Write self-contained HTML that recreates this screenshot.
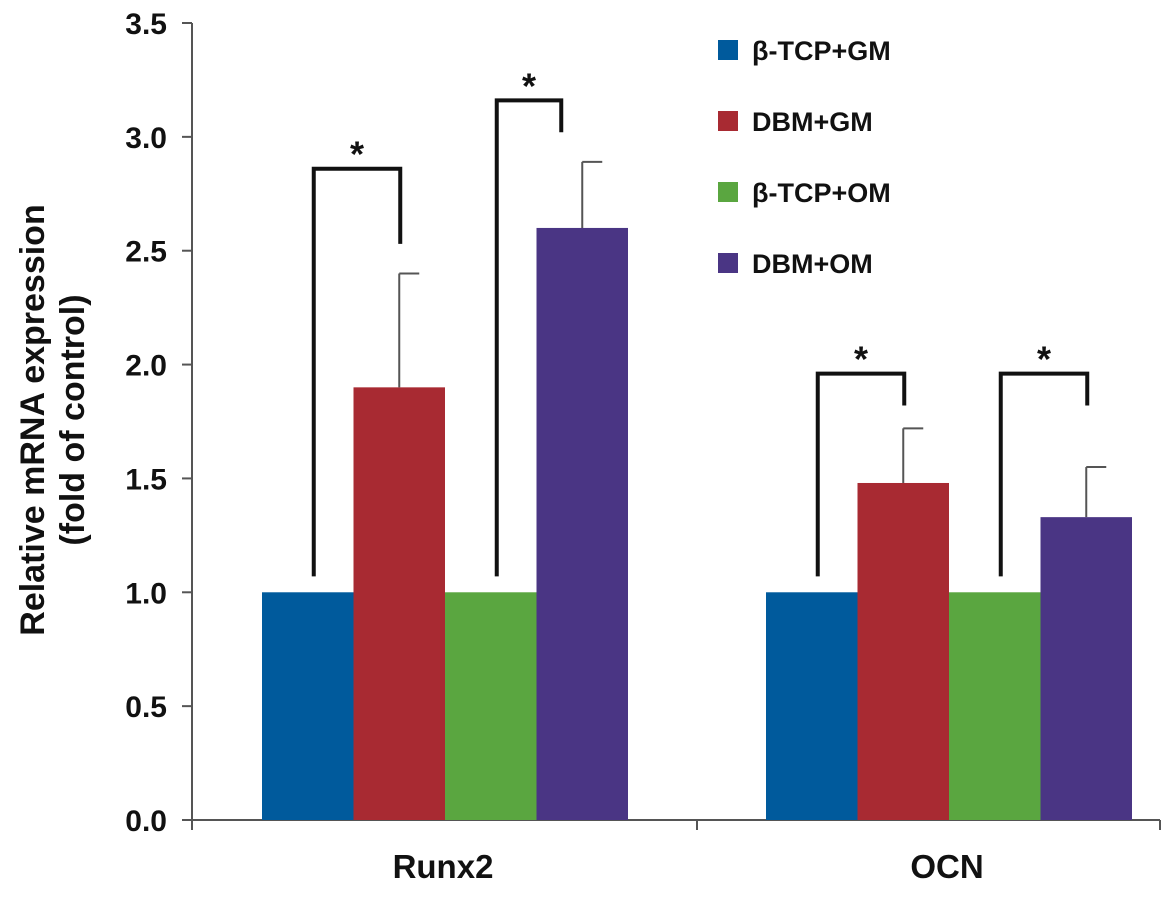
<!DOCTYPE html>
<html><head><meta charset="utf-8"><style>
body{margin:0;background:#fff;}
svg text{font-family:"Liberation Sans",Arial,sans-serif;font-weight:bold;}
</style></head><body>
<svg id="chart" width="1172" height="892" viewBox="0 0 1172 892"></svg>
<script>
const categories=["Runx2","OCN"];
const seriesNames=["β-TCP+GM","DBM+GM","β-TCP+OM","DBM+OM"];
const seriesColors=["#005a9c","#a82a32","#5aa640","#4a3584"];
const runx2Values=[1.0,1.9,1.0,2.6];
const ocnValues=[1.0,1.48,1.0,1.33];
const runx2Errors=[0,0.5,0,0.29];
const ocnErrors=[0,0.24,0,0.22];
const yTicks=[0,0.5,1.0,1.5,2.0,2.5,3.0,3.5];
const yTickLabels=["0.0","0.5","1.0","1.5","2.0","2.5","3.0","3.5"];
// [group, series1, series2, bracket top value, right-leg end value]
const sigPairs=[[0,0,1,2.86,2.53],[0,2,3,3.16,3.02],[1,0,1,1.96,1.82],[1,2,3,1.96,1.82]];

const svg=document.getElementById('chart');
const NS="http://www.w3.org/2000/svg";
function el(t,a,p){const e=document.createElementNS(NS,t);for(const k in a)e.setAttribute(k,a[k]);(p||svg).appendChild(e);return e;}
const y0=820,yTop=23,x0=192,x1=1160;
function yScale(v){return y0-(v/3.5)*(y0-yTop);}
const groupStart=[262,766],barW=91.5;
function xBar(g,s){return groupStart[g]+s*barW;}

let a=el('line',{x1:x0,y1:yTop,x2:x0,y2:y0,stroke:'#555','stroke-width':2});

a=el('line',{x1:x0,y1:y0,x2:x1,y2:y0,stroke:'#555','stroke-width':2});

[x0,697,x1].forEach(x=>{const t=el('line',{x1:x,y1:y0,x2:x,y2:y0+10,stroke:'#555','stroke-width':2});
});
yTicks.forEach((v,i)=>{const y=yScale(v);
const t=el('line',{x1:x0-10,y1:y,x2:x0,y2:y,stroke:'#555','stroke-width':2});

const l=el('text',{x:167,y:y+11,'text-anchor':'end','font-size':30,fill:'#111'});l.textContent=yTickLabels[i];
});

const yt=el('text',{transform:'translate(44,420) rotate(-90)','text-anchor':'middle','font-size':34,fill:'#111'});

const ts1=el('tspan',{x:0,dy:0},yt);ts1.textContent="Relative mRNA expression";
const ts2=el('tspan',{x:0,dy:40},yt);ts2.textContent="(fold of control)";

const vals=[runx2Values,ocnValues],errs=[runx2Errors,ocnErrors];
categories.forEach((c,g)=>{
 vals[g].forEach((v,s)=>{
  const r=el('rect',{x:xBar(g,s),y:yScale(v),width:barW,height:y0-yScale(v),fill:seriesColors[s]});
  
  const e=errs[g][s];
  if(e>0){const cx=xBar(g,s)+barW/2;
   const ln=el('line',{x1:cx,y1:yScale(v),x2:cx,y2:yScale(v+e),stroke:'#555','stroke-width':2});
   
   const cp=el('line',{x1:cx,y1:yScale(v+e),x2:cx+20,y2:yScale(v+e),stroke:'#555','stroke-width':2});
   }
 });
 const xl=el('text',{x:groupStart[g]+2*barW-2,y:878,'text-anchor':'middle','font-size':33,fill:'#111'});
 xl.textContent=c;
});

sigPairs.forEach((p,i)=>{
 const [g,s1,s2,top,end]=p;
 const xa=xBar(g,s1)+barW/2+6;
 const xb=xBar(g,s2)+barW/2+(i===1?-21:1);
 const yb=yScale(1.07),yTopB=yScale(top),yEnd=yScale(end);
 const pl=el('polyline',{points:`${xa},${yb} ${xa},${yTopB} ${xb},${yTopB} ${xb},${yEnd}`,fill:'none',stroke:'#111','stroke-width':4});
 
 const st=el('text',{x:(xa+xb)/2,y:yTopB-2,'text-anchor':'middle','font-size':36,fill:'#111'});st.textContent="*";
 
});

seriesNames.forEach((n,i)=>{const y=50+i*71;
 const sq=el('rect',{x:718,y:y-10,width:20,height:20,fill:seriesColors[i]});
 
 const t=el('text',{x:752,y:y+10,'font-size':27,fill:'#111'});t.textContent=n;
 });
</script>
</body></html>
